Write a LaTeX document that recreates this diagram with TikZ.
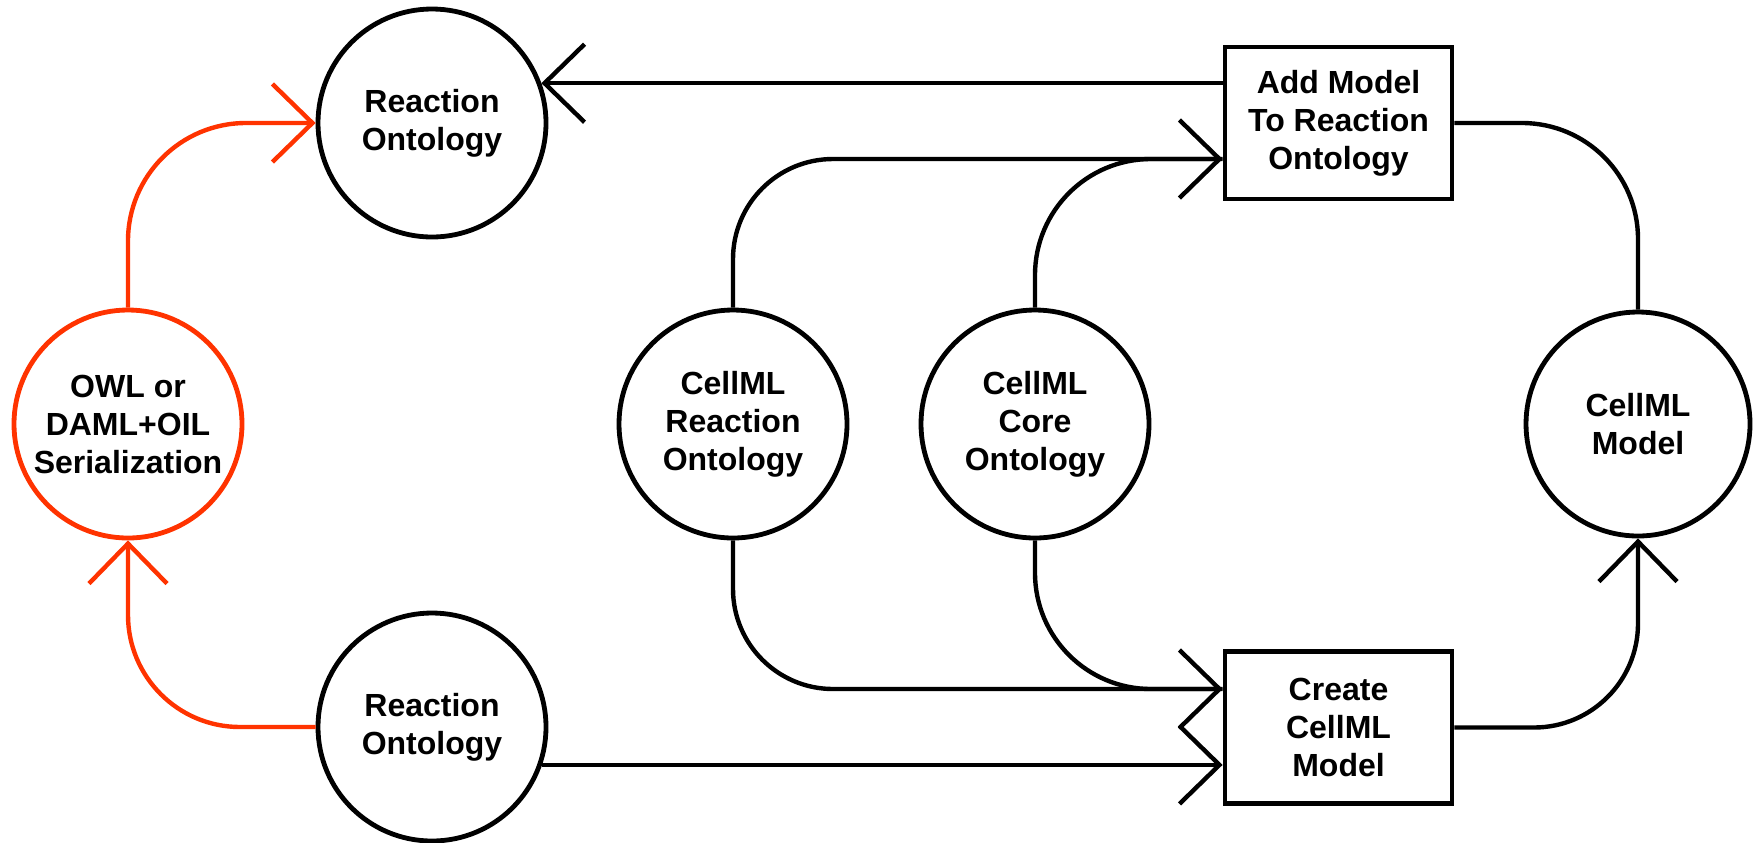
\documentclass[tikz,border=0pt]{standalone}
\usepackage{fontspec}
\setmainfont{Liberation Sans}
\usetikzlibrary{arrows.meta}
\definecolor{owlred}{RGB}{255,51,0}
\begin{document}
\begin{tikzpicture}[x=0.5pt,y=-0.5pt,
  lbl/.style={font=\bfseries\fontsize{16}{19}\selectfont, align=center, line width=2.4pt, draw, inner sep=0pt},
  circ/.style={lbl, circle, minimum size=114pt},
  box/.style={lbl, rectangle, minimum width=113.5pt, minimum height=76pt},
  conn/.style={line width=2.2pt},
  tip/.style={-{Straight Barb[length=20pt,width=39pt]}},
]
\useasboundingbox (0,0) rectangle (1754,842);
\node[circ, draw=owlred] (owl) at (128,424) {OWL or\\DAML+OIL\\Serialization};
\node[circ] (ro1) at (432,123) {Reaction\\Ontology};
\node[circ] (ro2) at (432,727) {Reaction\\Ontology};
\node[circ] (cro) at (733,424) {CellML\\Reaction\\Ontology};
\node[circ] (cco) at (1035,424) {CellML\\Core\\Ontology};
\node[circ, minimum size=112pt] (cm) at (1638,424) {CellML\\Model};
\node[box] (add) at (1338.5,123) {Add Model\\To Reaction\\Ontology};
\node[box] (create) at (1338.5,727.5) {Create\\CellML\\Model};
\coordinate (ya) at (0,159);
\coordinate (yc) at (0,689);
% red connectors
\draw[conn, owlred, tip, rounded corners=59pt] (owl.north) |- (ro1.west);
\draw[conn, owlred, tip, rounded corners=56pt] (ro2.west) -| (owl.south);
% black connectors
\draw[conn, tip] (add.west |- ro1.20) -- (ro1.20);
\draw[conn, tip] (ro2.-19) -- (create.west |- ro2.-19);
\draw[conn, tip, rounded corners=50pt] (cro.north) |- (add.west |- ya);
\draw[conn, rounded corners=58pt] (cco.north) |- (add.west |- ya);
\draw[conn, tip, rounded corners=50pt] (cro.south) |- (create.west |- yc);
\draw[conn, rounded corners=58pt] (cco.south) |- (create.west |- yc);
\draw[conn, rounded corners=58pt] (add.east) -| (cm.north);
\draw[conn, tip, rounded corners=52pt] (create.east) -| (cm.south);
\end{tikzpicture}
\end{document}
